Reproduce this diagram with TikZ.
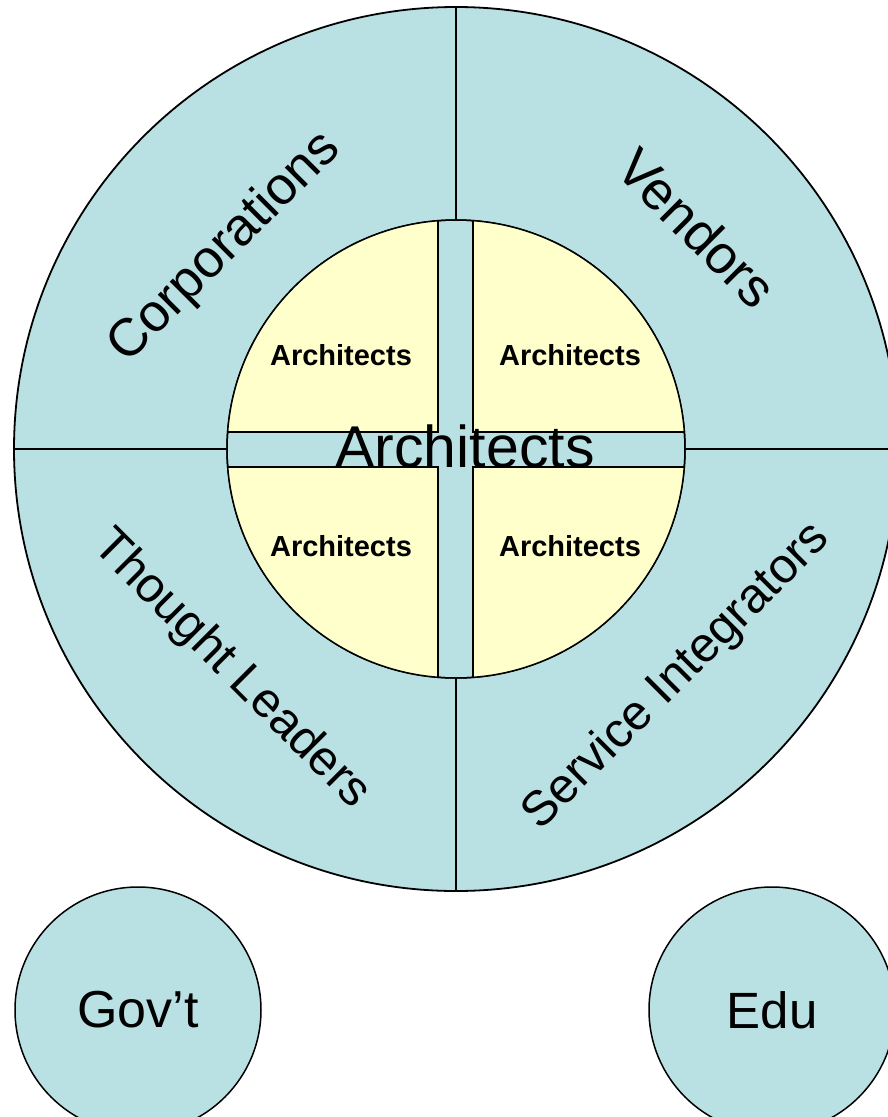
\documentclass[tikz,border=0pt]{standalone}
\usepackage{fontspec}
\setmainfont{Liberation Sans}
\definecolor{ringblue}{RGB}{185,224,227}
\definecolor{coreyellow}{RGB}{255,255,204}
\tikzset{
  biglabel/.style={font=\fontsize{#1}{60}\selectfont, inner sep=0pt},
  biglabel/.default=52,
  smalllabel/.style={font=\bfseries\fontsize{29}{32}\selectfont, inner sep=0pt},
  part/.style={draw=black, line width=1.5pt, fill=ringblue},
}
\begin{document}
\begin{tikzpicture}[x=1pt, y=-1pt]
        \useasboundingbox (0,0) rectangle (888,1117);
        % outer ring and its quarters
        \draw[part, line width=1.8pt] (456,449) circle (442pt);
        \draw[line width=1.5pt] (456,7) -- (456,891);
        \draw[line width=1.5pt] (14,449) -- (898,449);
        % inner core
        \draw[part] (456,449) circle (229pt);
        \begin{scope}
          \clip (456,449) circle (229pt);
          \draw[line width=1.5pt, fill=coreyellow] (200,200) rectangle (438,432);
          \draw[line width=1.5pt, fill=coreyellow] (473,200) rectangle (700,432);
          \draw[line width=1.5pt, fill=coreyellow] (200,467) rectangle (438,700);
          \draw[line width=1.5pt, fill=coreyellow] (473,467) rectangle (700,700);
        \end{scope}
        \draw[line width=1.5pt] (456,449) circle (229pt);
        % labels
        \node[biglabel=53, rotate=45] (corp) at (225,248) {Corporations};
        \node[biglabel=54, rotate=-45] (vend) at (697,228) {Vendors};
        \node[biglabel=49, rotate=-45] (thought) at (231,670) {Thought Leaders};
        \node[biglabel=49, rotate=45] (integ) at (677,677) {Service Integrators};
        \node[smalllabel] (archA) at (341,355) {Architects};
        \node[smalllabel] (archB) at (570,355) {Architects};
        \node[smalllabel] (archC) at (341,546) {Architects};
        \node[smalllabel] (archD) at (570,546) {Architects};
        \node[biglabel=59] (arch) at (465,446) {Architects};
        % outside circles
        \node[part, circle, minimum size=246pt, font=\fontsize{52}{54}\selectfont] (gov) at (138,1010) {Gov’t};
        \node[part, circle, minimum size=246pt, font=\fontsize{51}{54}\selectfont] (edu) at (772,1010) {Edu};
    \end{tikzpicture}
\end{document}
